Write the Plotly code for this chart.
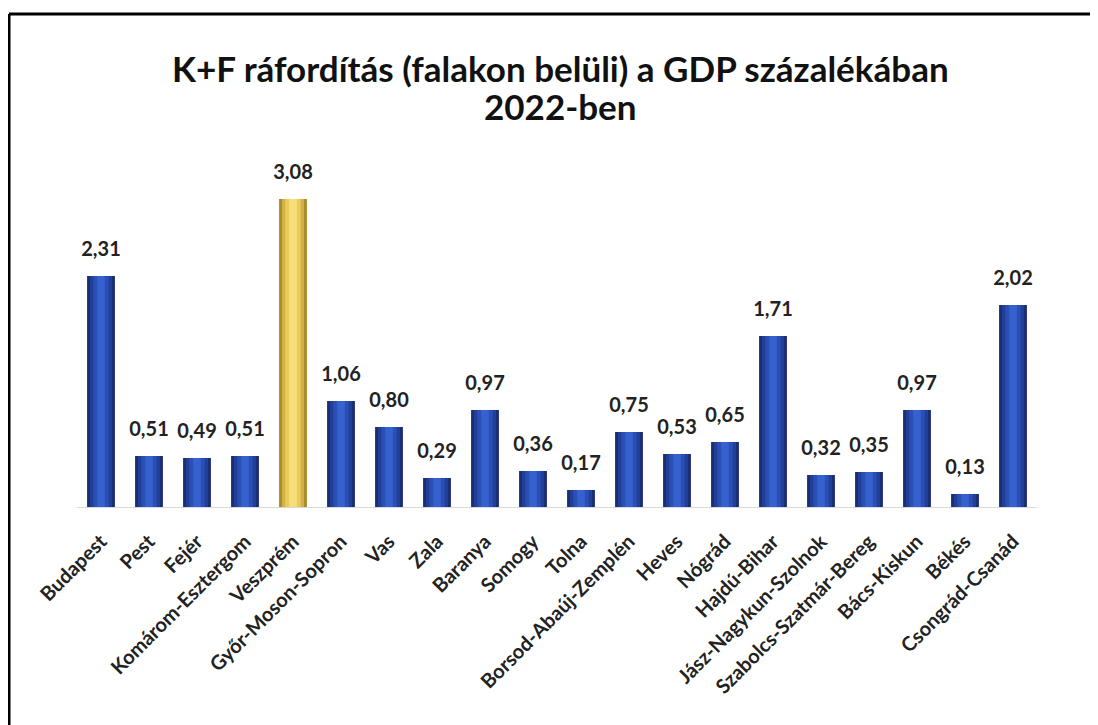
import plotly.graph_objects as go

# K+F ráfordítás a GDP százalékában, 2022
megyek = [
    "Budapest", "Pest", "Fejér", "Komárom-Esztergom", "Veszprém",
    "Győr-Moson-Sopron", "Vas", "Zala", "Baranya", "Somogy", "Tolna",
    "Borsod-Abaúj-Zemplén", "Heves", "Nógrád", "Hajdú-Bihar",
    "Jász-Nagykun-Szolnok", "Szabolcs-Szatmár-Bereg", "Bács-Kiskun",
    "Békés", "Csongrád-Csanád",
]
ertekek = [2.31, 0.51, 0.49, 0.51, 3.08, 1.06, 0.80, 0.29, 0.97, 0.36, 0.17,
           0.75, 0.53, 0.65, 1.71, 0.32, 0.35, 0.97, 0.13, 2.02]
kiemelt = "Veszprém"

# bevel effect: stacked overlays from dark edge to light centre
BLUE_SHADES = ["#1A2E72", "#223F98", "#2A50B8", "#3562CC"]
GOLD_SHADES = ["#A88A2A", "#D2B246", "#EACB5E", "#F7DE7A"]
WIDTHS = [0.58, 0.46, 0.32, 0.16]

FONT = "Lato"

# the page has an 8px body margin, so the figure starts at (8, 8)
OFF = 8
W, H = 1090, 717
L, R, T, B = 77 - OFF, 61, 157 - OFF, 218
pw, ph = W - L - R, H - T - B


def px_x(px):
    # page pixel -> paper x
    return (px - OFF - L) / pw


def px_y(py):
    # page pixel -> paper y
    return (H - B - (py - OFF)) / ph


fig = go.Figure()

for w, blue, gold in zip(WIDTHS, BLUE_SHADES, GOLD_SHADES):
    colors = [gold if m == kiemelt else blue for m in megyek]
    fig.add_trace(go.Bar(
        x=megyek,
        y=ertekek,
        width=w,
        marker=dict(color=colors, line=dict(width=0)),
        hoverinfo="skip",
        showlegend=False,
    ))

# value labels: invisible markers push the text a bit above the bar tops
fig.add_trace(go.Scatter(
    x=megyek,
    y=ertekek,
    mode="markers+text",
    marker=dict(size=22, opacity=0),
    text=[f"{v:.2f}".replace(".", ",") for v in ertekek],
    textposition="top center",
    textfont=dict(family=FONT, size=20, color="#222222", weight="bold"),
    cliponaxis=False,
    hoverinfo="skip",
    showlegend=False,
))

fig.update_layout(
    width=W,
    height=H,
    barmode="overlay",
    margin=dict(l=L, r=R, t=T, b=B),
    paper_bgcolor="white",
    plot_bgcolor="white",
    font=dict(family=FONT, color="#222222"),
)

fig.update_xaxes(
    range=[-0.5, len(megyek) - 0.5],
    tickangle=-45,
    tickfont=dict(family=FONT, size=20, color="#222222", weight="bold"),
    ticklabelstandoff=14,
    ticklabelshift=0,
    showline=True,
    linecolor="#D9D9D9",
    linewidth=1,
    ticks="",
    showgrid=False,
)
fig.update_yaxes(range=[0, 3.5], visible=False, showgrid=False)

# title lines
for txt, py in [("K+F ráfordítás (falakon belüli) a GDP százalékában", 68),
                ("2022-ben", 106)]:
    fig.add_annotation(
        x=px_x(560), y=px_y(py), xref="paper", yref="paper",
        xanchor="center", yanchor="middle",
        text=txt, showarrow=False,
        font=dict(family=FONT, size=35, color="#111111", weight="bold"),
    )

# frame (only top and left edges are visible in the picture)
fig.add_shape(type="line", xref="paper", yref="paper",
              x0=px_x(9), x1=px_x(1110), y0=px_y(14), y1=px_y(14),
              line=dict(color="black", width=3))
fig.add_shape(type="line", xref="paper", yref="paper",
              x0=px_x(9), x1=px_x(9), y0=px_y(14), y1=px_y(740),
              line=dict(color="black", width=3))

fig.write_html("out.html")
